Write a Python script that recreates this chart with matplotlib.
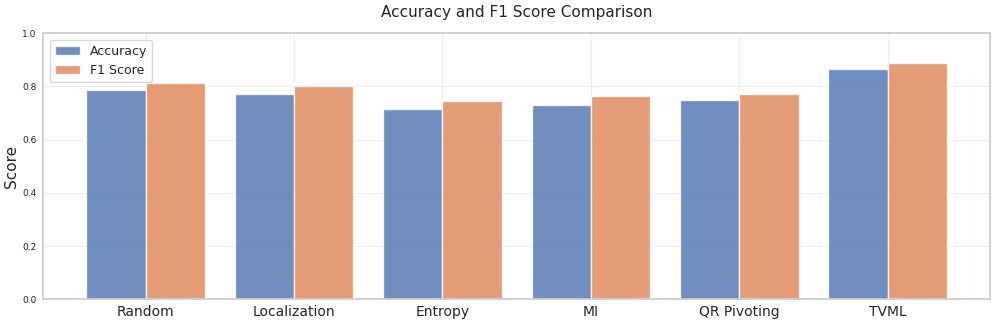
import numpy as np
import matplotlib
matplotlib.use("Agg")
import matplotlib.pyplot as plt
import seaborn as sns

methods = ["Random", "Localization", "Entropy", "MI", "QR Pivoting", "TVML"]
accuracy = [0.787, 0.772, 0.715, 0.732, 0.749, 0.865]
f1_score = [0.813, 0.802, 0.745, 0.764, 0.772, 0.887]

sns.set_theme(style="whitegrid")
plt.rcParams["font.family"] = ["DejaVu Sans"]
palette = sns.color_palette("deep")

fig, ax = plt.subplots(figsize=(9.96, 3.26), dpi=100)
fig.subplots_adjust(left=0.0435, right=0.994, top=0.898, bottom=0.082)

x = np.arange(len(methods))
width = 0.4
ax.bar(x - width / 2, accuracy, width, label="Accuracy", color=palette[0], alpha=0.8, edgecolor="white", linewidth=1)
ax.bar(x + width / 2, f1_score, width, label="F1 Score", color=palette[1], alpha=0.8, edgecolor="white", linewidth=1)

ax.set_ylim(0, 1.0)
ax.set_xticks(x, methods, fontsize=10)
ax.tick_params(axis="y", labelsize=6.5, length=0, pad=5)
ax.tick_params(axis="x", length=0, pad=4)
ax.set_ylabel("Score", fontsize=11)
ax.yaxis.set_label_coords(-0.026, 0.5)
ax.set_title("Accuracy and F1 Score Comparison", fontsize=11, pad=12)
ax.grid(True, alpha=0.3)
for spine in ax.spines.values():
    spine.set_color("#cccccc")
ax.legend(loc="upper left", fontsize=9)

fig.savefig("out.png", dpi=100)
